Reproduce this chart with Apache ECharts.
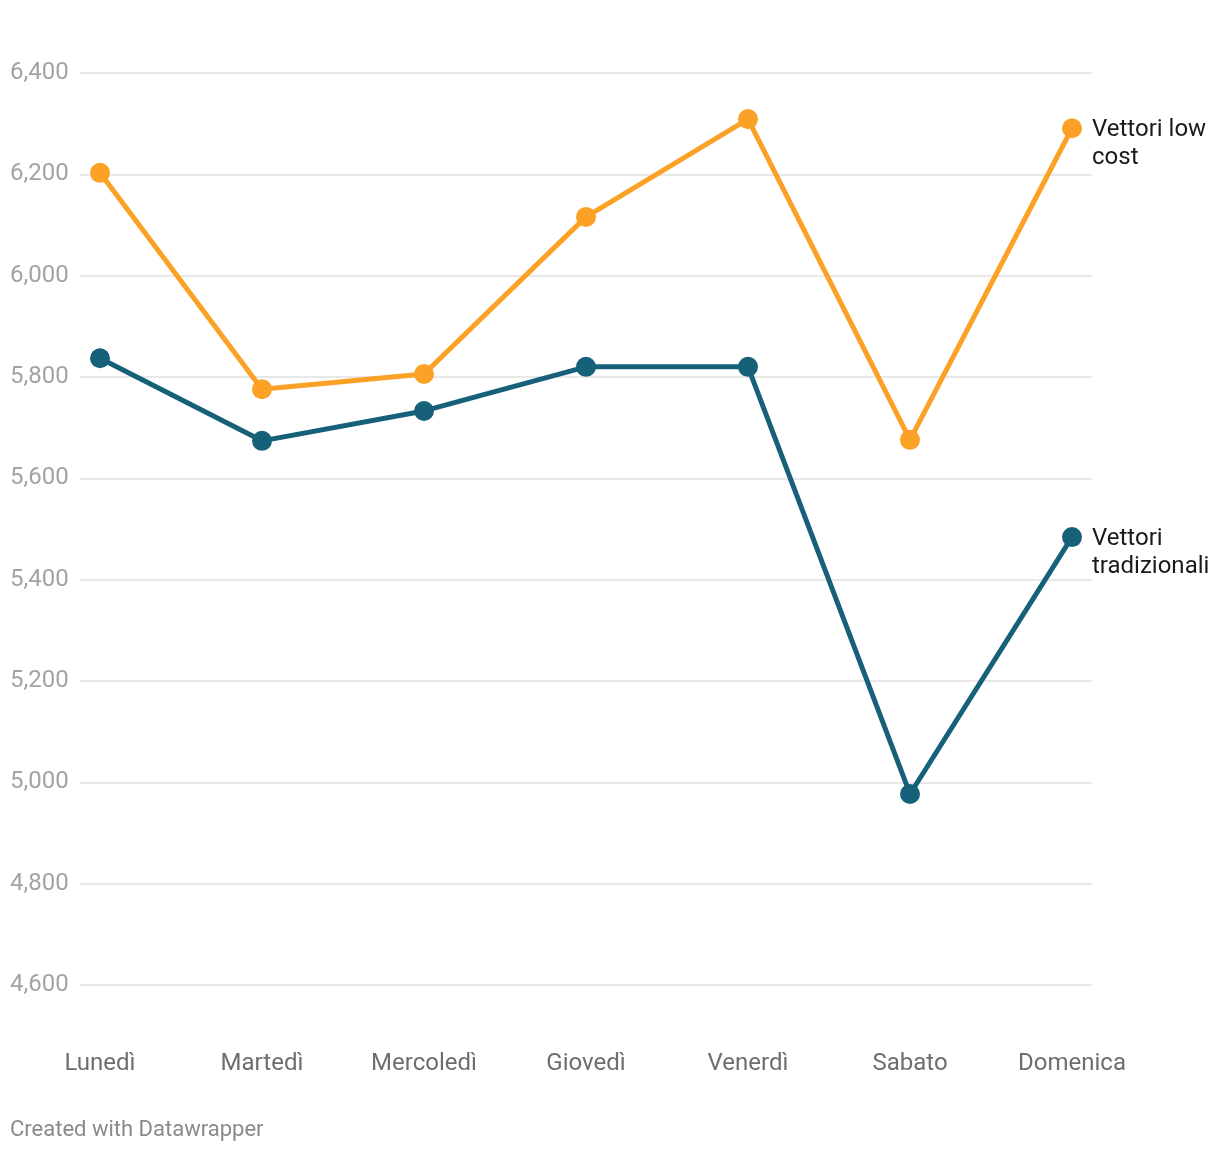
<!DOCTYPE html>
<html>
<head>
<meta charset="utf-8">
<script src="https://cdn.jsdelivr.net/npm/echarts@6/dist/echarts.min.js"></script>
<style>
html,body{margin:0;padding:0;background:#fff;}
#chart{width:1220px;height:1152px;}
</style>
</head>
<body>
<div id="chart"></div>
<script>
const categories = ['Lunedì','Martedì','Mercoledì','Giovedì','Venerdì','Sabato','Domenica'];
const lowCost = [6203, 5776, 5806, 6116, 6309, 5676, 6291];
const traditional = [5837, 5674, 5733, 5820, 5820, 4977, 5484];
const seriesNames = ['Vettori low cost', 'Vettori tradizionali'];
const labelLines = ['Vettori low\ncost', 'Vettori\ntradizionali'];
const yMin = 4600, yMax = 6400, yStep = 200;
const footer = 'Created with Datawrapper';

const chart = echarts.init(document.getElementById('chart'));
const font = 'Roboto';
function mkSeries(name, data, color, label) {
  return {
    name, type: 'line', data, xAxisIndex: 1, yAxisIndex: 1,
    symbol: 'circle', symbolSize: 20, showSymbol: true,
    lineStyle: { color, width: 5 },
    itemStyle: { color },
    emphasis: { disabled: true },
    endLabel: {
      show: true, formatter: () => label, color: '#1a1a1a',
      fontFamily: font, fontSize: 24, lineHeight: 28, distance: 20, align: 'left',
      offset: [0, 16]
    },
    z: 3
  };
}
chart.setOption({
  animation: false,
  textStyle: { fontFamily: font },
  grid: [
    { left: 80, right: 128, top: 73, bottom: 167 },
    { left: 100, right: 148, top: 73, bottom: 167 }
  ],
  xAxis: [
    { gridIndex: 0, type: 'value', min: 0, max: 1, show: false },
    { gridIndex: 1, type: 'category', data: categories, boundaryGap: false,
      axisLine: { show: false }, axisTick: { show: false }, splitLine: { show: false },
      axisLabel: { color: '#6e6e6e', fontFamily: font, fontSize: 24, margin: 67 } }
  ],
  yAxis: [
    { gridIndex: 0, type: 'value', min: yMin, max: yMax, interval: yStep,
      axisLine: { show: false }, axisTick: { show: false },
      splitLine: { lineStyle: { color: '#e0e0e0', width: 1.5 } },
      axisLabel: { color: '#a3a3a3', fontFamily: font, fontSize: 24, align: 'left', margin: 70,
        padding: [4, 0, 0, 0],
        formatter: v => v.toLocaleString('en-US') } },
    { gridIndex: 1, type: 'value', min: yMin, max: yMax, interval: yStep, show: false,
      splitLine: { show: false } }
  ],
  series: [
    mkSeries(seriesNames[0], lowCost, '#fba126', labelLines[0]),
    mkSeries(seriesNames[1], traditional, '#17607a', labelLines[1])
  ],
  graphic: [
    { type: 'text', left: 10, top: 1119,
      style: { text: footer, fill: '#8a8a8a', font: '22px Roboto' } }
  ]
});
</script>
</body>
</html>
